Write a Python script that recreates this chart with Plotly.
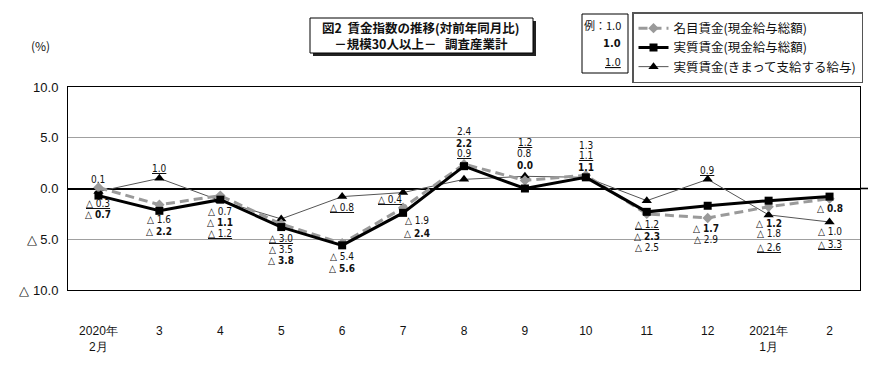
import plotly.graph_objects as go

# ---------------- data ----------------
categories = ["2020年<br>2月", "3", "4", "5", "6", "7", "8", "9", "10", "11", "12", "2021年<br>1月", "2"]
nominal_total = [0.1, -1.6, -0.7, -3.5, -5.4, -1.9, 2.4, 0.8, 1.3, -2.5, -2.9, -1.8, -1.0]
real_total = [-0.7, -2.2, -1.1, -3.8, -5.6, -2.4, 2.2, 0.0, 1.1, -2.3, -1.7, -1.2, -0.8]
real_scheduled = [-0.3, 1.0, -1.2, -3.0, -0.8, -0.4, 0.9, 1.2, 1.1, -1.2, 0.9, -2.6, -3.3]
series_names = ["名目賃金(現金給与総額)", "実質賃金(現金給与総額)", "実質賃金(きまって支給する給与)"]
ytick_vals = [10, 5, 0, -5, -10]
ytick_text = ["10.0", "5.0", "0.0", "△ 5.0", "△ 10.0"]
title_lines = ["図2  賃金指数の推移(対前年同月比)", "－規模30人以上－   調査産業計"]

# ---------------- layout / styling ----------------
W, H = 890, 370
L, R, T, B = 68, 30, 87, 80
PW, PH = W - L - R, H - T - B

def px(x):
    return (x - L) / PW

def py(y):
    return (H - B - y) / PH

NUM_FONT = "Liberation Sans Narrow, DejaVu Sans Condensed, Arial Narrow, Liberation Sans, sans-serif"
JP_FONT = "Noto Sans CJK JP, sans-serif"
AX_FONT = "Liberation Sans, Arial, sans-serif"

# label pixel offsets (dx, dy) relative to own point, dy positive = downward
off_nom = [(0, -8), (0, 15), (0, 16), (0, 25), (0, 13), (14, 13), (0, -33), (0, -27), (0, -30), (0, 34), (-2, 22), (0, 27), (0, 33)]
off_real = [(0, 19), (0, 21), (0, 23), (0, 33), (0, 23), (14, 21), (0, -23), (0, -23), (0, -10), (0, 25), (-2, 23), (0, 23), (0, 12)]
off_sch = [(0, 12), (0, -10), (0, 33), (0, 20), (0, 11), (-13, 7), (0, -26), (0, -34), (0, -22), (0, 24), (0, -9), (0, 33), (0, 22)]

def fmt(v):
    return ("△ %.1f" % abs(v)) if v < 0 else ("%.1f" % v)

fig = go.Figure()

fig.add_trace(go.Scatter(
    x=categories, y=real_scheduled, name=series_names[2], mode="lines+markers",
    line=dict(color="#555555", width=1),
    marker=dict(symbol="triangle-up", size=9, color="black"),
    legendrank=3,
))
fig.add_trace(go.Scatter(
    x=categories, y=nominal_total, name=series_names[0], mode="lines+markers",
    line=dict(color="#9a9a9a", width=3, dash="9px,5px"),
    marker=dict(symbol="diamond", size=8, color="#9a9a9a"),
    legendrank=1,
))
fig.add_trace(go.Scatter(
    x=categories, y=real_total, name=series_names[1], mode="lines+markers",
    line=dict(color="black", width=3),
    marker=dict(symbol="square", size=8, color="black"),
    legendrank=2,
))

annotations = []
for i in range(len(categories)):
    for vals, offs, kind in ((nominal_total, off_nom, "n"), (real_total, off_real, "r"), (real_scheduled, off_sch, "s")):
        t = fmt(vals[i])
        if kind == "r":
            t = "<b>" + t + "</b>"
        elif kind == "s":
            t = "<u>" + t + "</u>"
        dx, dy = offs[i]
        annotations.append(dict(
            x=i, y=vals[i], xref="x", yref="y", text=t, showarrow=False,
            xshift=dx, yshift=-dy, xanchor="center", yanchor="middle",
            font=dict(family=NUM_FONT, size=10, color="#111"),
        ))

# (%) label
annotations.append(dict(x=px(40), y=py(46), xref="paper", yref="paper", text="(%)", showarrow=False,
                        font=dict(family=JP_FONT, size=12, color="#111"), xanchor="center", yanchor="middle"))
# title (single two-line annotation)
annotations.append(dict(x=px(421), y=py(35.5), xref="paper", yref="paper",
                        text="<b>" + title_lines[0] + "</b><br><b>" + title_lines[1] + "</b>",
                        showarrow=False, font=dict(family=JP_FONT, size=12.5, color="#111"),
                        xanchor="center", yanchor="middle", align="center"))
# example box texts
ex_texts = ["例：1.0", "<b>1.0</b>", "<u>1.0</u>"]
for j, t in enumerate(ex_texts):
    annotations.append(dict(x=px(623), y=py([25, 44, 63][j]), xref="paper", yref="paper", text=t,
                            showarrow=False, font=dict(family=NUM_FONT if j else JP_FONT, size=11, color="#111"),
                            xanchor="right", yanchor="middle"))

shapes = [
    # zero line extension beyond the frame
    dict(type="line", xref="paper", yref="y", x0=1, x1=px(868), y0=0, y1=0,
         line=dict(color="black", width=1.6), layer="above"),
    # title box shadow + box
    dict(type="rect", xref="paper", yref="paper", x0=px(313), x1=px(536), y0=py(21), y1=py(56),
         line=dict(width=0), fillcolor="#222"),
    dict(type="rect", xref="paper", yref="paper", x0=px(310), x1=px(533), y0=py(18), y1=py(53),
         line=dict(color="black", width=1), fillcolor="white"),
    # example box
    dict(type="rect", xref="paper", yref="paper", x0=px(582), x1=px(628), y0=py(14), y1=py(73),
         line=dict(color="black", width=1), fillcolor="white"),
]

fig.update_layout(
    width=W, height=H, autosize=False,
    margin=dict(l=L, r=R, t=T, b=B, pad=0, autoexpand=False),
    paper_bgcolor="white", plot_bgcolor="white",
    font=dict(family=JP_FONT, color="#111"),
    showlegend=True,
    legend=dict(
        x=px(632), y=py(12), xanchor="left", yanchor="top",
        bordercolor="#555", borderwidth=1.5, bgcolor="white",
        font=dict(family=JP_FONT, size=12.5, color="#111"),
        tracegroupgap=0, traceorder="normal",
    ),
    annotations=annotations,
    shapes=shapes,
)
fig.update_xaxes(
    type="category", range=[-0.5, len(categories) - 0.5],
    showgrid=False, showline=True, mirror=True, linecolor="black", linewidth=1,
    ticks="", ticklabelstandoff=30, automargin=False,
    tickfont=dict(family=AX_FONT, size=12, color="#111"),
)
fig.update_yaxes(
    range=[-10, 10], tickvals=ytick_vals, ticktext=ytick_text,
    showgrid=True, gridcolor="#a0a0a0", gridwidth=1,
    zeroline=True, zerolinecolor="black", zerolinewidth=1.6,
    showline=True, mirror=True, linecolor="black", linewidth=1,
    ticks="", ticklabelstandoff=6, automargin=False,
    tickfont=dict(family=AX_FONT, size=13, color="#111"),
)

fig.write_html("out.html", config={"displayModeBar": False},
               post_script="document.body.style.margin='0';")
